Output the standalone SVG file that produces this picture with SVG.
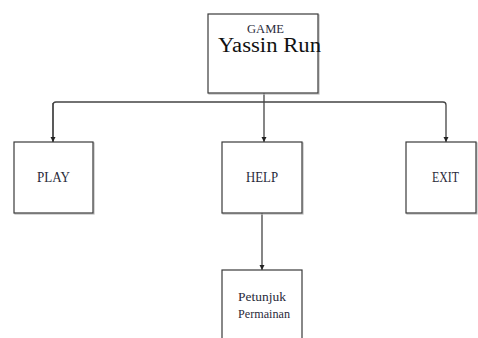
<svg xmlns="http://www.w3.org/2000/svg" width="478" height="338" viewBox="0 0 478 338">
<defs>
<style>
.box{fill:#fff;stroke:#3a3a3a;stroke-width:1.2}
.sh{fill:none;stroke:#bbb;stroke-width:1.2}
.ln{fill:none;stroke:#444;stroke-width:1.3}
text{font-family:"Liberation Serif","Times New Roman",serif;fill:#2a2a3a}
</style>
<marker id="ah" viewBox="0 0 6 6" refX="6" refY="3" markerWidth="4" markerHeight="4" orient="auto">
<path d="M0,0 L6,3 L0,6 z" fill="#222"/>
</marker>
</defs>
<rect width="478" height="338" fill="#fff"/>
<g id="connectors">
<path class="ln" d="M264,93 V102"/>
<path class="ln" d="M53,142 V105 Q53,102 56,102 H443 Q446,102 446,105 V142" marker-end="url(#ah)"/>
<path class="ln" d="M53,103 V142" marker-end="url(#ah)"/>
<path class="ln" d="M264,102 V142" marker-end="url(#ah)"/>
<path class="ln" d="M262,213 V270" marker-end="url(#ah)"/>
</g>
<g id="game">
<rect class="sh" x="209" y="15" width="110" height="79"/>
<rect class="box" x="208" y="14" width="110" height="79"/>
<text x="247" y="33" font-family="Liberation Serif, serif" font-size="11.5" textLength="37" lengthAdjust="spacingAndGlyphs" fill="#3a4a6a">GAME</text>
<text x="218" y="52" font-family="Liberation Serif, serif" font-size="20.5" textLength="103" lengthAdjust="spacingAndGlyphs" style="fill:#111">Yassin Run</text>
</g>
<g id="play">
<rect class="sh" x="15" y="143" width="79" height="71"/>
<rect class="box" x="14" y="142" width="79" height="71"/>
<text x="37" y="182" font-family="Liberation Serif, serif" font-size="14" textLength="33" lengthAdjust="spacingAndGlyphs">PLAY</text>
</g>
<g id="help">
<rect class="sh" x="223" y="143" width="80" height="71"/>
<rect class="box" x="222" y="142" width="80" height="71"/>
<text x="246" y="182" font-family="Liberation Serif, serif" font-size="14" textLength="32" lengthAdjust="spacingAndGlyphs">HELP</text>
</g>
<g id="exit">
<rect class="sh" x="407" y="143" width="70" height="71"/>
<rect class="box" x="406" y="142" width="70" height="71"/>
<text x="432" y="182" font-family="Liberation Serif, serif" font-size="14" textLength="27" lengthAdjust="spacingAndGlyphs">EXIT</text>
</g>
<g id="petunjuk">
<rect class="box" x="222" y="270" width="80" height="80"/>
<text x="238" y="301" font-family="Liberation Serif, serif" font-size="13" textLength="48" lengthAdjust="spacingAndGlyphs">Petunjuk</text>
<text x="238" y="318" font-family="Liberation Serif, serif" font-size="13" textLength="52" lengthAdjust="spacingAndGlyphs">Permainan</text>
</g>
</svg>
